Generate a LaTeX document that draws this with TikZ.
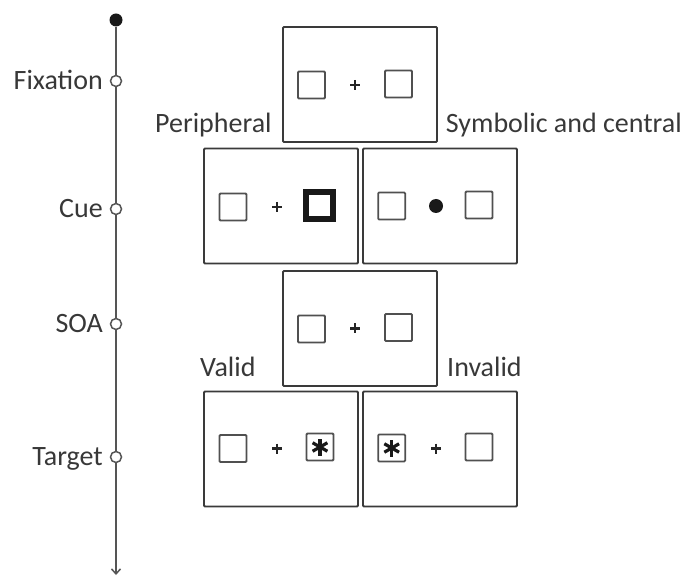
\documentclass[tikz,border=0pt]{standalone}
\usepackage{fontspec}
\setmainfont{Carlito}
\usetikzlibrary{arrows.meta,calc}
\definecolor{txt}{HTML}{383838}
\definecolor{frame}{HTML}{3A3A3A}
\definecolor{sq}{HTML}{505050}
\definecolor{tl}{HTML}{555555}
\tikzset{
  screen/.style={draw=frame, line width=1.8pt, rounded corners=1pt, minimum width=154pt, minimum height=115pt, inner sep=0pt},
  holder/.style={draw=sq, line width=1.8pt, rounded corners=1pt, minimum width=27pt, minimum height=27pt, inner sep=0pt},
  cuebox/.style={draw=black!90, line width=5.5pt, minimum width=27pt, minimum height=27pt, inner sep=0pt},
  tick/.style={circle, draw=tl, fill=white, line width=1.5pt, minimum size=11pt, inner sep=0pt},
  startdot/.style={circle, fill=black!90, minimum size=13pt, inner sep=0pt},
  tline/.style={draw=tl, line width=1.8pt},
  lab/.style={text=txt, font=\fontsize{28}{32}\selectfont, inner sep=0pt},
  fixplus/.style={draw=black!85, line width=2.2pt},
}
\newcommand{\fixcross}[1]{\draw[fixplus] ($(#1)+(-5,0)$) -- ($(#1)+(5,0)$); \draw[fixplus] ($(#1)+(0,-5)$) -- ($(#1)+(0,5)$);}
\newcommand{\aster}[1]{\foreach \a in {90,30,150}{\draw[black!90, line width=3.2pt] ($(#1)+(\a:8.5)$) -- ($(#1)+(\a+180:8.5)$);}}
\begin{document}
\begin{tikzpicture}[x=1pt,y=-1pt]
\useasboundingbox (0,0) rectangle (683,577);
% timeline
\node[startdot] (t0) at (116,20) {};
\node[tick] (t1) at (116,81) {};
\node[tick] (t2) at (116,209) {};
\node[tick] (t3) at (116,324) {};
\node[tick] (t4) at (116,457) {};
\coordinate (tend) at (116,575);
\draw[tline] (t0) -- (t1);
\draw[tline] (t1) -- (t2);
\draw[tline] (t2) -- (t3);
\draw[tline] (t3) -- (t4);
\draw[tline, -{Straight Barb[length=5pt,width=9pt,line width=1.5pt]}] (t4) -- (tend);
% timeline labels
\node[lab, anchor=base east] (lfix) at (103,89.5) {Fixation};
\node[lab, anchor=base east] (lcue) at (103,217.5) {Cue};
\node[lab, anchor=base east] (lsoa) at (103,332.5) {SOA};
\node[lab, anchor=base east] (ltgt) at (103,465) {Target};
% condition labels
\node[lab, anchor=base west] (lper) at (155,132.5) {Peripheral};
\node[lab, anchor=base east] (lsym) at (682,132.5) {Symbolic and central};
\node[lab, anchor=base west] (lval) at (200,376.5) {Valid};
\node[lab, anchor=base west] (linv) at (447,376.5) {Invalid};
% fixation screen
\node[screen] (sfix) at (360,84.5) {};
\node[holder] (fixL) at (311.5,85) {};
\node[holder] (fixR) at (398.5,84) {};
\coordinate (fixC) at (355,85);
\fixcross{fixC}
% cue screens
\node[screen] (scueP) at (281,206) {};
\node[holder] (cuePL) at (233,207) {};
\node[cuebox] (cuePR) at (319.7,205.5) {};
\coordinate (cuePC) at (277,207);
\fixcross{cuePC}
\node[screen] (scueS) at (440,206) {};
\node[holder] (cueSL) at (391.7,206) {};
\node[holder] (cueSR) at (479,205) {};
\node[circle, fill=black!90, minimum size=14pt, inner sep=0pt] (cueDot) at (436,206) {};
% SOA screen
\node[screen] (ssoa) at (360,328.5) {};
\node[holder] (soaL) at (311.5,329) {};
\node[holder] (soaR) at (398.5,327.5) {};
\coordinate (soaC) at (355,328.5);
\fixcross{soaC}
% target screens
\node[screen] (stgtV) at (281,449) {};
\node[holder] (tgtVL) at (233,448.5) {};
\node[holder] (tgtVR) at (320,447) {};
\aster{tgtVR}
\coordinate (tgtVC) at (277,448.5);
\fixcross{tgtVC}
\node[screen] (stgtI) at (440,449) {};
\node[holder] (tgtIL) at (391.7,448) {};
\aster{tgtIL}
\node[holder] (tgtIR) at (479,447) {};
\coordinate (tgtIC) at (436,448.5);
\fixcross{tgtIC}
\end{tikzpicture}
\end{document}
